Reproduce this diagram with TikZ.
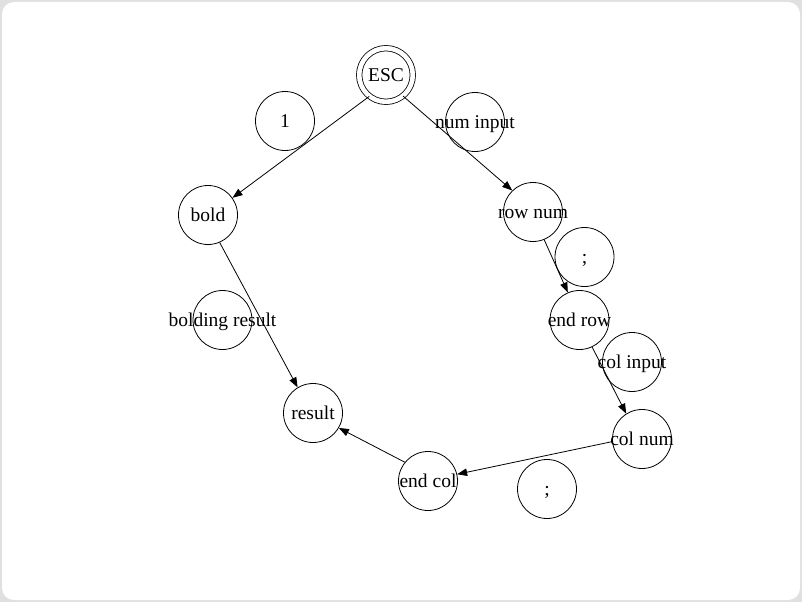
\documentclass[tikz,border=0pt]{standalone}
\usepackage{fontspec}
\setmainfont{Liberation Serif}
\usetikzlibrary{arrows.meta}
% text that does not widen its circle
\newcommand{\ctext}[1]{\makebox[0pt]{#1}}

\begin{document}
\begin{tikzpicture}[x=1pt, y=-1pt,
  state/.style={draw, circle, line width=0.8pt, minimum size=59pt, inner sep=0pt,
    text height=13pt, text depth=0.5pt, font=\fontsize{19.5}{23}\selectfont},
  startstate/.style={state, double, double distance=4.6pt, minimum size=53.6pt},
  edge/.style={line width=0.8pt, -{Triangle[length=10pt,width=7.5pt]}}]
% Frame
\fill[black!12] (0, 0) rectangle (802, 602);
\fill[white, rounded corners=12pt] (2, 2) rectangle (800, 600);

% States
\node[startstate] (esc) at (386, 75) {\ctext{ESC}};
\node[state] (bold) at (208, 215) {\ctext{bold}};
\node[state] (rownum) at (533, 212) {\ctext{row num}};
\node[state] (endrow) at (579.5, 320) {\ctext{end row}};
\node[state] (colnum) at (642, 439) {\ctext{col num}};
\node[state] (endcol) at (428, 481) {\ctext{end col}};
\node[state] (result) at (313, 413) {\ctext{result}};

% Labels (drawn as circles)
\node[state] (lblone) at (285, 121) {\ctext{1}};
\node[state] (lblnum) at (475, 122) {\ctext{num input}};
\node[state] (lblsemia) at (584.5, 257) {\ctext{;}};
\node[state] (lblcol) at (632, 362) {\ctext{col input}};
\node[state] (lblsemib) at (547, 489) {\ctext{;}};
\node[state] (lblbold) at (222.5, 320) {\ctext{bolding result}};

% Transitions
\draw[edge] (esc.232.8) -- (bold.35.8);
\draw[edge] (esc.309) -- (rownum.134.6);
\draw[edge] (bold.293) -- (result.121.8);
\draw[edge] (rownum.292.6) -- (endrow.113.3);
\draw[edge] (endrow.295) -- (colnum.122);
\draw[edge] (colnum.185) -- (endcol.13);
\draw[edge] (endcol.141) -- (result.330.5);
\end{tikzpicture}
\end{document}
